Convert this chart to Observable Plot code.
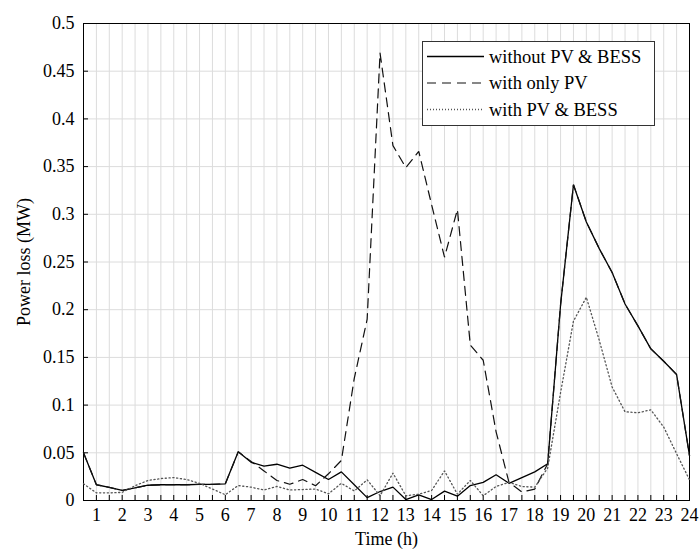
<!DOCTYPE html>
<html>
<head>
<meta charset="utf-8">
<script src="https://cdn.jsdelivr.net/npm/d3@7"></script>
<script src="https://cdn.jsdelivr.net/npm/@observablehq/plot@0.6"></script>
<style>
  body { margin: 0; background: #fff; }
  #wrap { position: relative; width: 699px; height: 557px; font-family: "Liberation Serif", serif; }
  #legend { position: absolute; left: 422px; top: 41px; }
</style>
</head>
<body>
<div id="wrap"></div>
<script>
// Time of day (h), half-hourly
const time = [0.5, 1, 1.5, 2, 2.5, 3, 3.5, 4, 4.5, 5, 5.5, 6, 6.5, 7, 7.5, 8, 8.5, 9, 9.5, 10, 10.5, 11, 11.5, 12,
              12.5, 13, 13.5, 14, 14.5, 15, 15.5, 16, 16.5, 17, 17.5, 18, 18.5, 19, 19.5, 20, 20.5, 21, 21.5, 22, 22.5, 23, 23.5, 24];

// Power loss (MW)
const withoutPVBESS = [0.050, 0.0165, 0.0138, 0.0105, 0.0133, 0.016, 0.0165, 0.0165, 0.0165, 0.017, 0.017, 0.0175,
                       0.051, 0.040, 0.036, 0.038, 0.034, 0.037, 0.0295, 0.022, 0.030, 0.0165, 0.003, 0.0094,
                       0.014, 0.001, 0.006, 0.001, 0.0098, 0.0045, 0.0157, 0.019, 0.027, 0.018, 0.024, 0.030,
                       0.0385, 0.205, 0.331, 0.292, 0.264, 0.239, 0.206, 0.183, 0.159, 0.146, 0.132, 0.047];

const withOnlyPV = [0.050, 0.0165, 0.0138, 0.0105, 0.0133, 0.016, 0.0165, 0.0165, 0.0165, 0.017, 0.017, 0.0175,
                    0.051, 0.041, 0.031, 0.021, 0.017, 0.022, 0.0155, 0.028, 0.042, 0.128, 0.190, 0.469,
                    0.372, 0.349, 0.366, 0.310, 0.255, 0.305, 0.163, 0.147, 0.072, 0.019, 0.009, 0.012,
                    0.0385, 0.205, 0.331, 0.292, 0.264, 0.239, 0.206, 0.183, 0.159, 0.146, 0.132, 0.047];

const withPVBESS = [0.0175, 0.008, 0.008, 0.0085, 0.0155, 0.021, 0.023, 0.024, 0.022, 0.018, 0.012, 0.006,
                    0.0157, 0.014, 0.011, 0.0147, 0.011, 0.0115, 0.012, 0.007, 0.018, 0.010, 0.0217, 0.005,
                    0.0287, 0.005, 0.0066, 0.0105, 0.031, 0.0066, 0.021, 0.005, 0.0147, 0.019, 0.0147, 0.014,
                    0.034, 0.113, 0.188, 0.213, 0.168, 0.119, 0.093, 0.092, 0.095, 0.077, 0.049, 0.0217];

const seriesNames = ["without PV & BESS", "with only PV", "with PV & BESS"];
const xTickLabels = [1, 2, 3, 4, 5, 6, 7, 8, 9, 10, 11, 12, 13, 14, 15, 16, 17, 18, 19, 20, 21, 22, 23, 24];
const yTicks = [0, 0.05, 0.1, 0.15, 0.2, 0.25, 0.3, 0.35, 0.4, 0.45, 0.5];

const seriesValues = [withoutPVBESS, withOnlyPV, withPVBESS];
const rows = [];
seriesNames.forEach((name, s) => time.forEach((t, i) => rows.push({series: name, t, v: seriesValues[s][i]})));

const styles = {
  "without PV & BESS": {stroke: "#000", strokeWidth: 1.3, dash: null},
  "with only PV": {stroke: "#111", strokeWidth: 1.2, dash: "9,6"},
  "with PV & BESS": {stroke: "#555", strokeWidth: 1.3, dash: "1.2,2.6"}
};

const lineMarks = seriesNames.map(name => Plot.line(rows.filter(d => d.series === name), {
  x: "t", y: "v", stroke: styles[name].stroke, strokeWidth: styles[name].strokeWidth,
  strokeDasharray: styles[name].dash, strokeLinejoin: "miter"
}));

const chart = Plot.plot({
  width: 699, height: 557,
  marginLeft: 83, marginRight: 10, marginTop: 23, marginBottom: 57,
  style: {fontFamily: "'Liberation Serif', serif", fontSize: "18px", color: "#000", background: "#fff"},
  x: {domain: [0.5, 24]},
  y: {domain: [0, 0.5]},
  marks: [
    Plot.gridX(time, {stroke: "#dcdcdc", strokeOpacity: 1, strokeWidth: 1}),
    Plot.gridY(yTicks, {stroke: "#dcdcdc", strokeOpacity: 1, strokeWidth: 1}),
    Plot.axisX(time, {tickSize: -5, tickFormat: () => "", label: null, stroke: "#000"}),
    Plot.axisX(xTickLabels, {tickSize: 0, tickPadding: 8, tickFormat: d => String(d), fontSize: 18,
      label: "Time (h)", labelAnchor: "center", labelArrow: "none", labelOffset: 44}),
    Plot.axisY(yTicks, {tickSize: -5, tickFormat: () => "", label: null, stroke: "#000"}),
    Plot.axisY(yTicks, {tickSize: 0, tickPadding: 9, tickFormat: d => String(d), fontSize: 18,
      label: "Power loss (MW)", labelAnchor: "center", labelArrow: "none", labelOffset: 66}),
    Plot.frame({stroke: "#000", strokeWidth: 1}),
    ...lineMarks
  ]
});
document.getElementById("wrap").appendChild(chart);

// Legend (real text)
const ns = "http://www.w3.org/2000/svg";
const leg = document.createElementNS(ns, "svg");
leg.setAttribute("id", "legend");
leg.setAttribute("width", 233);
leg.setAttribute("height", 85);
leg.setAttribute("style", "position:absolute;left:422px;top:41px;");
const bg = document.createElementNS(ns, "rect");
bg.setAttribute("x", 0.5); bg.setAttribute("y", 0.5);
bg.setAttribute("width", 232); bg.setAttribute("height", 84);
bg.setAttribute("fill", "#fff"); bg.setAttribute("stroke", "#333"); bg.setAttribute("stroke-width", 1);
leg.appendChild(bg);
seriesNames.forEach((name, i) => {
  const cy = 15.5 + i * 26.5;
  const ln = document.createElementNS(ns, "line");
  ln.setAttribute("x1", 5); ln.setAttribute("x2", 62);
  ln.setAttribute("y1", cy); ln.setAttribute("y2", cy);
  ln.setAttribute("stroke", styles[name].stroke);
  ln.setAttribute("stroke-width", styles[name].strokeWidth);
  if (styles[name].dash) ln.setAttribute("stroke-dasharray", i === 1 ? "9,6" : "1,2");
  leg.appendChild(ln);
  const tx = document.createElementNS(ns, "text");
  tx.setAttribute("x", 67); tx.setAttribute("y", cy);
  tx.setAttribute("dy", "0.35em");
  tx.setAttribute("font-family", "'Liberation Serif', serif");
  tx.setAttribute("font-size", "18.5px");
  tx.textContent = name;
  leg.appendChild(tx);
});
document.getElementById("wrap").appendChild(leg);
</script>
</body>
</html>
